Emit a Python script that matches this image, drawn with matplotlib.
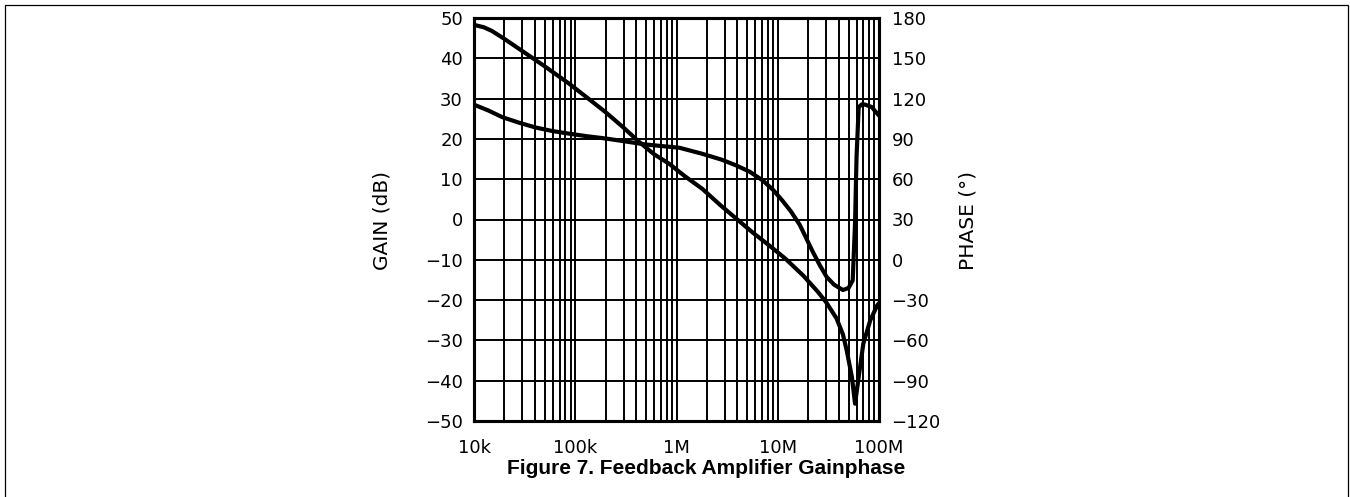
import matplotlib
matplotlib.use("Agg")
import matplotlib.pyplot as plt
from matplotlib.patches import Rectangle

# frequency (Hz) / gain (dB)
gain_freq = [1e4, 1.25e4, 1.5e4, 2e4, 3e4, 5e4, 8.7e4, 1.3e5, 2e5, 3e5, 4.3e5, 6e5, 8.5e5,
             1.2e6, 1.8e6, 2.7e6, 3.9e6, 5.7e6, 8.3e6, 1.2e7, 1.8e7, 2.5e7, 3.0e7,
             3.8e7, 4.4e7, 4.8e7, 5.4e7, 5.8e7, 6.3e7, 7.0e7, 8.2e7, 9.6e7, 1e8]
gain_db = [48.3, 47.7, 46.8, 44.8, 41.8, 38.0, 33.7, 30.3, 26.6, 22.8, 19.2, 16.2, 13.8,
           10.8, 7.6, 3.6, 0.2, -3.3, -6.5, -9.8, -14.0, -18.0, -20.5,
           -24.5, -28.5, -32.5, -39.1, -45.7, -39.1, -30.8, -25.0, -21.3, -20.8]

# frequency (Hz) / phase (deg)
phase_freq = [1e4, 1.4e4, 1.9e4, 2.8e4, 4.1e4, 6e4, 8.7e4, 1.3e5, 2e5, 3.2e5, 5e5,
              1.07e6, 1.8e6, 2.8e6, 3.9e6, 5.3e6, 7.1e6, 9e6, 1.11e7, 1.35e7, 1.65e7,
              1.9e7, 2.2e7, 2.6e7, 3.05e7, 3.6e7, 4.4e7, 5.0e7, 5.5e7, 5.8e7, 6.0e7, 6.3e7,
              6.8e7, 7.3e7, 8.5e7, 9.3e7, 1e8]
phase_deg = [115.5, 111, 106.2, 102, 98.4, 95.8, 93.9, 92, 90.3, 88, 85.8,
             83.4, 78.9, 74.5, 70.2, 65.5, 59.1, 52, 44.1, 36, 26,
             16.5, 6.5, -4, -12.9, -18.5, -22.5, -21, -15.3, 27, 76.5, 113.7,
             115.8, 115.5, 113.7, 110, 107.4]

x_ticks = [1e4, 1e5, 1e6, 1e7, 1e8]
x_labels = ["10k", "100k", "1M", "10M", "100M"]
gain_ticks = [50, 40, 30, 20, 10, 0, -10, -20, -30, -40, -50]
phase_ticks = [180, 150, 120, 90, 60, 30, 0, -30, -60, -90, -120]


def fmt(v):
    return str(v) if v >= 0 else "\u2212" + str(-v)


fig = plt.figure(figsize=(13.5, 4.97), dpi=100)
ax = fig.add_axes([474 / 1350, 1 - 421 / 497, 405 / 1350, 403 / 497])
ax2 = ax.twinx()

ax.set_xscale("log")
ax.set_xlim(1e4, 1e8)
ax.set_ylim(-50, 50)
ax2.set_ylim(-120, 180)

# grid: every 10 dB, every 1..9 of each decade
ax.set_yticks(gain_ticks)
ax.set_yticklabels([fmt(v) for v in gain_ticks])
ax2.set_yticks(phase_ticks)
ax2.set_yticklabels([fmt(v) for v in phase_ticks])
ax.set_xticks(x_ticks)
ax.set_xticklabels(x_labels)
ax.xaxis.set_minor_locator(matplotlib.ticker.LogLocator(base=10, subs=range(2, 10)))
ax.xaxis.set_minor_formatter(matplotlib.ticker.NullFormatter())
ax.grid(True, which="both", axis="x", color="black", lw=1.4)
ax.grid(True, which="major", axis="y", color="black", lw=1.4)

ax.tick_params(axis="both", which="both", length=0)
ax.tick_params(axis="y", pad=8, labelsize=13)
ax.tick_params(axis="x", pad=13, labelsize=13)
ax2.tick_params(axis="y", length=0, pad=9, labelsize=13)

for a in (ax, ax2):
    for s in a.spines.values():
        s.set_linewidth(2.2)

ax.plot(gain_freq, gain_db, color="black", lw=3, solid_joinstyle="round")
ax2.plot(phase_freq, phase_deg, color="black", lw=3, solid_joinstyle="round")

fig.text(382 / 1350, 1 - 220 / 497, "GAIN (dB)", rotation=90, ha="center", va="center",
         fontsize=14.5)
fig.text(968 / 1350, 1 - 220 / 497, "PHASE (\u00b0)", rotation=90, ha="center", va="center",
         fontsize=14.5)
fig.text(706 / 1350, 1 - 468 / 497, "Figure 7. Feedback Amplifier Gainphase",
         ha="center", va="center", fontsize=15, fontweight="bold",
         family="Liberation Sans")

# outer frame of the page snippet
fig.patches.append(Rectangle((5 / 1350, -0.05), 1343 / 1350, 1.05 - 5 / 497,
                             transform=fig.transFigure, fill=False, lw=0.9,
                             edgecolor="black"))

fig.savefig("out.png", dpi=100)
plt.close(fig)
